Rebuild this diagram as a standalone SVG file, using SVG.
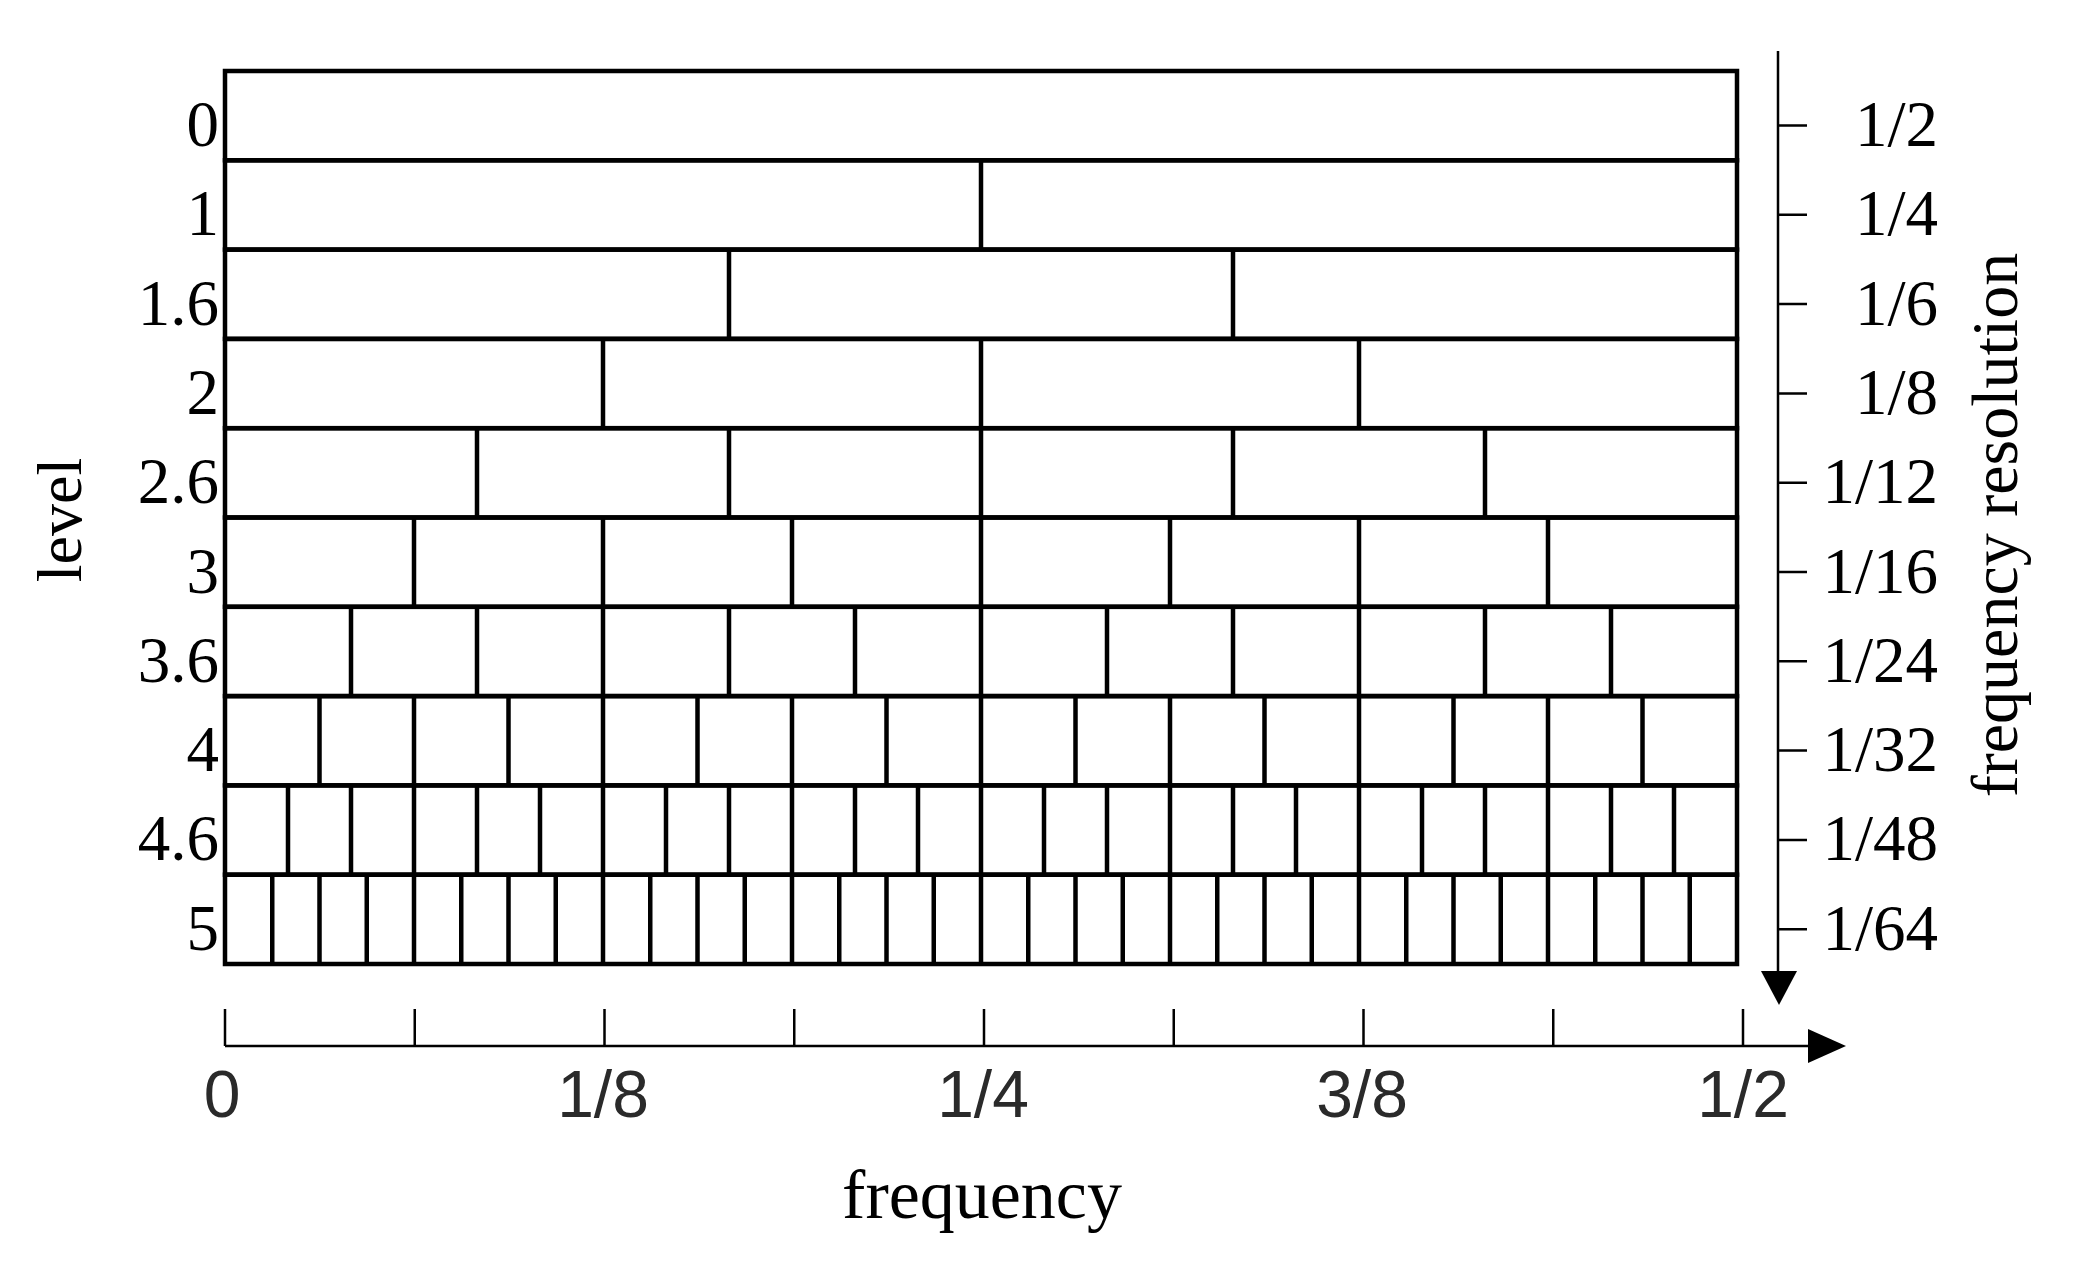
<svg xmlns="http://www.w3.org/2000/svg" width="2091" height="1273" viewBox="0 0 2091 1273">
<style>
.cell{fill:none;stroke:#000;stroke-width:4.5;stroke-linecap:square}
.div{fill:none;stroke:#000;stroke-width:4.5}
.ax{fill:none;stroke:#000;stroke-width:2.5}
.head{fill:#000;stroke:none}
.serif{font-family:"Liberation Serif","Times New Roman",serif;fill:#000;text-anchor:middle}
.lbl{font-family:"Liberation Serif","Times New Roman",serif;font-size:65px;fill:#000;text-anchor:end}
.sans{font-family:"Liberation Sans",Arial,sans-serif;font-size:66px;fill:#2a2a2a;text-anchor:middle}
</style>
<rect width="2091" height="1273" fill="#fff"/>

<g id="row-0"><rect class="cell" x="225" y="71" width="1512" height="89.3"/><text class="lbl" x="219" y="146">0</text></g>
<g id="row-1"><rect class="cell" x="225" y="160.3" width="1512" height="89.3"/><path class="div" d="M981 160.3V249.6"/><text class="lbl" x="219" y="235.3">1</text></g>
<g id="row-1.6"><rect class="cell" x="225" y="249.6" width="1512" height="89.3"/><path class="div" d="M729 249.6V338.9M1233 249.6V338.9"/><text class="lbl" x="219" y="324.6">1.6</text></g>
<g id="row-2"><rect class="cell" x="225" y="338.9" width="1512" height="89.3"/><path class="div" d="M603 338.9V428.2M981 338.9V428.2M1359 338.9V428.2"/><text class="lbl" x="219" y="413.9">2</text></g>
<g id="row-2.6"><rect class="cell" x="225" y="428.2" width="1512" height="89.3"/><path class="div" d="M477 428.2V517.5M729 428.2V517.5M981 428.2V517.5M1233 428.2V517.5M1485 428.2V517.5"/><text class="lbl" x="219" y="503.2">2.6</text></g>
<g id="row-3"><rect class="cell" x="225" y="517.5" width="1512" height="89.3"/><path class="div" d="M414 517.5V606.8M603 517.5V606.8M792 517.5V606.8M981 517.5V606.8M1170 517.5V606.8M1359 517.5V606.8M1548 517.5V606.8"/><text class="lbl" x="219" y="592.5">3</text></g>
<g id="row-3.6"><rect class="cell" x="225" y="606.8" width="1512" height="89.3"/><path class="div" d="M351 606.8V696.1M477 606.8V696.1M603 606.8V696.1M729 606.8V696.1M855 606.8V696.1M981 606.8V696.1M1107 606.8V696.1M1233 606.8V696.1M1359 606.8V696.1M1485 606.8V696.1M1611 606.8V696.1"/><text class="lbl" x="219" y="681.8">3.6</text></g>
<g id="row-4"><rect class="cell" x="225" y="696.1" width="1512" height="89.3"/><path class="div" d="M319.5 696.1V785.4M414 696.1V785.4M508.5 696.1V785.4M603 696.1V785.4M697.5 696.1V785.4M792 696.1V785.4M886.5 696.1V785.4M981 696.1V785.4M1075.5 696.1V785.4M1170 696.1V785.4M1264.5 696.1V785.4M1359 696.1V785.4M1453.5 696.1V785.4M1548 696.1V785.4M1642.5 696.1V785.4"/><text class="lbl" x="219" y="771.1">4</text></g>
<g id="row-4.6"><rect class="cell" x="225" y="785.4" width="1512" height="89.3"/><path class="div" d="M288 785.4V874.7M351 785.4V874.7M414 785.4V874.7M477 785.4V874.7M540 785.4V874.7M603 785.4V874.7M666 785.4V874.7M729 785.4V874.7M792 785.4V874.7M855 785.4V874.7M918 785.4V874.7M981 785.4V874.7M1044 785.4V874.7M1107 785.4V874.7M1170 785.4V874.7M1233 785.4V874.7M1296 785.4V874.7M1359 785.4V874.7M1422 785.4V874.7M1485 785.4V874.7M1548 785.4V874.7M1611 785.4V874.7M1674 785.4V874.7"/><text class="lbl" x="219" y="860.4">4.6</text></g>
<g id="row-5"><rect class="cell" x="225" y="874.7" width="1512" height="89.3"/><path class="div" d="M272.25 874.7V964M319.5 874.7V964M366.75 874.7V964M414 874.7V964M461.25 874.7V964M508.5 874.7V964M555.75 874.7V964M603 874.7V964M650.25 874.7V964M697.5 874.7V964M744.75 874.7V964M792 874.7V964M839.25 874.7V964M886.5 874.7V964M933.75 874.7V964M981 874.7V964M1028.25 874.7V964M1075.5 874.7V964M1122.75 874.7V964M1170 874.7V964M1217.25 874.7V964M1264.5 874.7V964M1311.75 874.7V964M1359 874.7V964M1406.25 874.7V964M1453.5 874.7V964M1500.75 874.7V964M1548 874.7V964M1595.25 874.7V964M1642.5 874.7V964M1689.75 874.7V964"/><text class="lbl" x="219" y="949.7">5</text></g>

<g id="connectors">
  <g id="resolution-axis">
    <path class="ax" d="M1778 51V975"/>
    <path class="head" d="M1761 971H1797L1779 1005Z"/>
    <path class="ax" d="M1778 125.5H1807M1778 214.8H1807M1778 304.1H1807M1778 393.4H1807M1778 482.7H1807M1778 572H1807M1778 661.3H1807M1778 750.6H1807M1778 839.9H1807M1778 929.2H1807"/>
  </g>
  <g id="frequency-axis">
    <path class="ax" d="M225 1046H1812"/>
    <path class="head" d="M1808 1029V1063L1846 1046Z"/>
    <path class="ax" d="M225 1009V1046M414.75 1009V1046M604.5 1009V1046M794.25 1009V1046M984 1009V1046M1173.75 1009V1046M1363.5 1009V1046M1553.25 1009V1046M1743 1009V1046"/>
  </g>
</g>

<g id="resolution-labels">
  <text class="lbl" x="1938" y="146">1/2</text>
  <text class="lbl" x="1938" y="235.3">1/4</text>
  <text class="lbl" x="1938" y="324.6">1/6</text>
  <text class="lbl" x="1938" y="413.9">1/8</text>
  <text class="lbl" x="1938" y="503.2">1/12</text>
  <text class="lbl" x="1938" y="592.5">1/16</text>
  <text class="lbl" x="1938" y="681.8">1/24</text>
  <text class="lbl" x="1938" y="771.1">1/32</text>
  <text class="lbl" x="1938" y="860.4">1/48</text>
  <text class="lbl" x="1938" y="949.7">1/64</text>
</g>

<g id="frequency-labels">
  <text class="sans" x="222" y="1117">0</text>
  <text class="sans" x="603" y="1117">1/8</text>
  <text class="sans" x="983" y="1117">1/4</text>
  <text class="sans" x="1362" y="1117">3/8</text>
  <text class="sans" x="1743" y="1117">1/2</text>
</g>

<text class="serif" x="982" y="1218" style="font-size:70px">frequency</text>
<text class="serif" transform="translate(81,520) rotate(-90)" style="font-size:64px">level</text>
<text class="serif" transform="translate(2017,525) rotate(-90)" style="font-size:66px">frequency resolution</text>
</svg>
